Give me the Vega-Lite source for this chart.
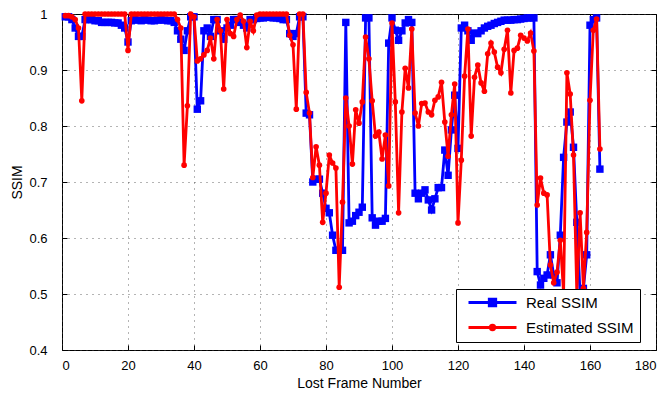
{
"$schema": "https://vega.github.io/schema/vega-lite/v6.json",
"width": 594, "height": 336,
"autosize": {"type": "none"},
"padding": {"left": 62, "top": 14, "right": 6, "bottom": 44},
"background": "white",
"config": {
  "font": "Liberation Sans",
  "view": {"stroke": "black", "strokeWidth": 1},
  "axis": {"labelFont": "Liberation Sans", "labelFontSize": 13, "labelColor": "black", "titleFont": "Liberation Sans", "titleFontSize": 14, "titleFontWeight": "normal", "titleColor": "black", "domain": false, "tickColor": "black", "tickSize": -5, "gridColor": "#444", "gridDash": [1, 5], "gridOpacity": 0.8, "gridWidth": 1}
},
"data": {"values": [
{"f":1,"r":0.995,"e":0.997},{"f":2,"r":0.995,"e":0.997},{"f":3,"r":0.99,"e":0.995},{"f":4,"r":0.975,"e":0.99},{"f":5,"r":0.96,"e":0.975},{"f":6,"r":0.96,"e":0.845},{"f":7,"r":0.99,"e":1},{"f":8,"r":0.99,"e":1},{"f":9,"r":0.99,"e":1},{"f":10,"r":0.988,"e":1},
{"f":11,"r":0.988,"e":1},{"f":12,"r":0.985,"e":1},{"f":13,"r":0.985,"e":1},{"f":14,"r":0.985,"e":1},{"f":15,"r":0.985,"e":1},{"f":16,"r":0.984,"e":1},{"f":17,"r":0.984,"e":1},{"f":18,"r":0.98,"e":1},{"f":19,"r":0.975,"e":1},{"f":20,"r":0.95,"e":0.935},
{"f":21,"r":0.988,"e":1},{"f":22,"r":0.99,"e":1},{"f":23,"r":0.989,"e":1},{"f":24,"r":0.988,"e":1},{"f":25,"r":0.99,"e":1},{"f":26,"r":0.989,"e":1},{"f":27,"r":0.988,"e":1},{"f":28,"r":0.988,"e":1},{"f":29,"r":0.989,"e":1},{"f":30,"r":0.99,"e":1},
{"f":31,"r":0.989,"e":1},{"f":32,"r":0.988,"e":1},{"f":33,"r":0.988,"e":1},{"f":34,"r":0.985,"e":1},{"f":35,"r":0.97,"e":0.99},{"f":36,"r":0.955,"e":0.975},{"f":37,"r":0.935,"e":0.73},{"f":38,"r":0.97,"e":0.836},{"f":39,"r":0.995,"e":1},{"f":40,"r":0.995,"e":0.995},
{"f":41,"r":0.83,"e":0.916},{"f":42,"r":0.845,"e":0.92},{"f":43,"r":0.97,"e":0.927},{"f":44,"r":0.975,"e":0.935},{"f":45,"r":0.96,"e":0.957},{"f":46,"r":0.99,"e":0.92},{"f":47,"r":0.99,"e":0.99},{"f":48,"r":0.97,"e":0.97},{"f":49,"r":0.955,"e":0.866},{"f":50,"r":0.975,"e":0.99},
{"f":51,"r":0.98,"e":0.965},{"f":52,"r":0.99,"e":0.96},{"f":53,"r":0.99,"e":0.99},{"f":54,"r":0.985,"e":0.998},{"f":55,"r":0.98,"e":0.987},{"f":56,"r":0.975,"e":0.94},{"f":57,"r":0.99,"e":0.987},{"f":58,"r":0.99,"e":0.97},{"f":59,"r":0.992,"e":0.998},{"f":60,"r":0.993,"e":1},
{"f":61,"r":0.993,"e":1},{"f":62,"r":0.994,"e":1},{"f":63,"r":0.994,"e":1},{"f":64,"r":0.993,"e":1},{"f":65,"r":0.993,"e":1},{"f":66,"r":0.992,"e":1},{"f":67,"r":0.99,"e":1},{"f":68,"r":0.99,"e":1},{"f":69,"r":0.965,"e":0.962},{"f":70,"r":0.96,"e":0.945},
{"f":71,"r":0.965,"e":0.83},{"f":72,"r":0.995,"e":1},{"f":73,"r":0.995,"e":1},{"f":74,"r":0.823,"e":0.86},{"f":75,"r":0.82,"e":0.823},{"f":76,"r":0.7,"e":0.708},{"f":77,"r":0.705,"e":0.763},{"f":78,"r":0.705,"e":0.73},{"f":79,"r":0.68,"e":0.628},{"f":80,"r":0.653,"e":0.68},
{"f":81,"r":0.645,"e":0.748},{"f":82,"r":0.605,"e":0.734},{"f":83,"r":0.578,"e":0.725},{"f":84,"r":0.578,"e":0.512},{"f":85,"r":0.578,"e":0.664},{"f":86,"r":0.985,"e":0.85},{"f":87,"r":0.627,"e":0.8},{"f":88,"r":0.63,"e":0.732},{"f":89,"r":0.64,"e":0.829},{"f":90,"r":0.646,"e":0.805},
{"f":91,"r":0.655,"e":0.843},{"f":92,"r":0.993,"e":0.959},{"f":93,"r":0.993,"e":0.92},{"f":94,"r":0.636,"e":0.845},{"f":95,"r":0.623,"e":0.782},{"f":96,"r":0.63,"e":0.789},{"f":97,"r":0.63,"e":0.741},{"f":98,"r":0.635,"e":0.784},{"f":99,"r":0.948,"e":0.693},{"f":100,"r":0.993,"e":0.984},
{"f":101,"r":0.971,"e":0.843},{"f":102,"r":0.953,"e":0.645},{"f":103,"r":0.97,"e":0.825},{"f":104,"r":0.984,"e":0.903},{"f":105,"r":0.99,"e":0.868},{"f":106,"r":0.985,"e":0.973},{"f":107,"r":0.68,"e":0.823},{"f":108,"r":0.67,"e":0.8},{"f":109,"r":0.68,"e":0.84},{"f":110,"r":0.686,"e":0.841},
{"f":111,"r":0.668,"e":0.825},{"f":112,"r":0.65,"e":0.82},{"f":113,"r":0.67,"e":0.846},{"f":114,"r":0.69,"e":0.852},{"f":115,"r":0.69,"e":0.878},{"f":116,"r":0.757,"e":0.807},{"f":117,"r":0.712,"e":0.746},{"f":118,"r":0.793,"e":0.82},{"f":119,"r":0.855,"e":0.875},{"f":120,"r":0.76,"e":0.627},
{"f":121,"r":0.975,"e":0.739},{"f":122,"r":0.98,"e":0.889},{"f":123,"r":0.97,"e":0.973},{"f":124,"r":0.953,"e":0.782},{"f":125,"r":0.966,"e":0.887},{"f":126,"r":0.965,"e":0.909},{"f":127,"r":0.97,"e":0.877},{"f":128,"r":0.975,"e":0.862},{"f":129,"r":0.978,"e":0.929},{"f":130,"r":0.98,"e":0.948},
{"f":131,"r":0.983,"e":0.932},{"f":132,"r":0.985,"e":0.905},{"f":133,"r":0.987,"e":0.895},{"f":134,"r":0.989,"e":0.937},{"f":135,"r":0.989,"e":0.971},{"f":136,"r":0.989,"e":0.859},{"f":137,"r":0.99,"e":0.935},{"f":138,"r":0.99,"e":0.939},{"f":139,"r":0.991,"e":0.962},{"f":140,"r":0.992,"e":0.957},
{"f":141,"r":0.993,"e":0.952},{"f":142,"r":0.993,"e":0.966},{"f":143,"r":0.993,"e":0.934},{"f":144,"r":0.54,"e":0.659},{"f":145,"r":0.516,"e":0.707},{"f":146,"r":0.528,"e":0.68},{"f":147,"r":0.534,"e":0.677},{"f":148,"r":0.57,"e":0.552},{"f":149,"r":0.534,"e":0.52},{"f":150,"r":0.52,"e":0.539},
{"f":151,"r":0.605,"e":0.596},{"f":152,"r":0.744,"e":0.5},{"f":153,"r":0.807,"e":0.895},{"f":154,"r":0.825,"e":0.857},{"f":155,"r":0.762,"e":0.748},{"f":156,"r":0.628,"e":0.5},{"f":157,"r":0.5,"e":0.645},{"f":158,"r":0.51,"e":0.51},{"f":159,"r":0.57,"e":0.61},{"f":160,"r":0.98,"e":0.846},
{"f":161,"r":0.99,"e":0.971},{"f":162,"r":0.993,"e":0.991},{"f":163,"r":0.723,"e":0.759}
]},
"resolve": {"axis": {"x": "independent", "y": "independent"}},
"layer": [
  {"mark": {"type": "line", "strokeWidth": 2.8},
   "encoding": {
     "x": {"field": "f", "type": "quantitative", "scale": {"domain": [0, 180], "nice": false}, "axis": {"orient": "bottom", "values": [0,20,40,60,80,100,120,140,160,180], "title": "Lost Frame Number", "grid": true, "labelPadding": 14, "titlePadding": 4}},
     "y": {"field": "r", "type": "quantitative", "scale": {"domain": [0.4, 1], "nice": false, "zero": false}, "axis": {"orient": "left", "values": [0.4,0.5,0.6,0.7,0.8,0.9,1], "title": "SSIM", "grid": true, "labelPadding": 20, "titlePadding": 4, "labelExpr": "datum.value == 1 ? '1' : format(datum.value, '.1f')"}},
     "color": {"datum": "Real SSIM", "type": "nominal", "scale": {"domain": ["Real SSIM", "Estimated SSIM"], "range": ["#0000ff", "#ff0000"]},
       "legend": {"orient": "none", "legendX": 394, "legendY": 275, "title": null, "direction": "vertical", "fillColor": "white", "strokeColor": "black", "padding": 6, "labelFont": "Liberation Sans", "labelFontSize": 15, "labelColor": "black", "symbolSize": 100, "symbolOffset": 23, "labelOffset": 26, "rowPadding": 7, "symbolStrokeWidth": 2.8,
         "encode": {"symbols": {"update": {
           "shape": {"signal": "datum.value === 'Real SSIM' ? 'M-4.8,0H4.8M-0.65,-0.65H0.65V0.65H-0.65Z' : 'M-4.8,0H4.8M-0.45,0A0.45,0.45 0 1,0 0.45,0A0.45,0.45 0 1,0 -0.45,0Z'"},
           "fill": {"signal": "datum.value === 'Real SSIM' ? '#0000ff' : '#ff0000'"},
           "stroke": {"signal": "datum.value === 'Real SSIM' ? '#0000ff' : '#ff0000'"},
           "opacity": {"value": 1}, "fillOpacity": {"value": 1}}}}}}
   }},
  {"mark": {"type": "point", "shape": "square", "filled": true, "size": 55, "opacity": 1},
   "encoding": {
     "x": {"field": "f", "type": "quantitative", "axis": null},
     "y": {"field": "r", "type": "quantitative", "axis": null},
     "color": {"datum": "Real SSIM", "type": "nominal"}
   }},
  {"mark": {"type": "line", "strokeWidth": 2.8},
   "encoding": {
     "x": {"field": "f", "type": "quantitative", "axis": {"orient": "top", "values": [0,20,40,60,80,100,120,140,160,180], "labels": false, "grid": false, "title": null}},
     "y": {"field": "e", "type": "quantitative", "axis": {"orient": "right", "values": [0.4,0.5,0.6,0.7,0.8,0.9,1], "labels": false, "grid": false, "title": null}},
     "color": {"datum": "Estimated SSIM", "type": "nominal"}
   }},
  {"mark": {"type": "point", "shape": "circle", "filled": true, "size": 32, "opacity": 1},
   "encoding": {
     "x": {"field": "f", "type": "quantitative", "axis": null},
     "y": {"field": "e", "type": "quantitative", "axis": null},
     "color": {"datum": "Estimated SSIM", "type": "nominal"}
   }}
]
}
